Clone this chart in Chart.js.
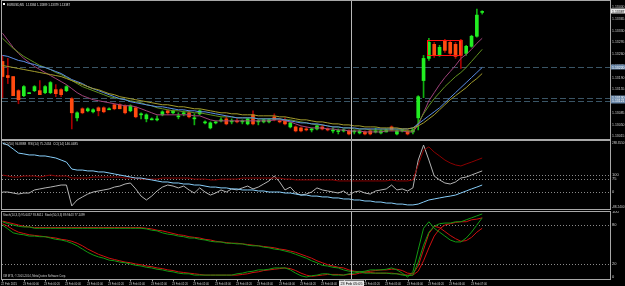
<!DOCTYPE html>
<html><head><meta charset="utf-8">
<script src="https://cdn.jsdelivr.net/npm/chart.js@4.4.1/dist/chart.umd.min.js"></script>
<style>
html,body{margin:0;padding:0;background:#000;width:625px;height:286px;overflow:hidden}
canvas{position:absolute;left:0;display:block}
</style></head><body>
<canvas id="c1" width="625" height="140" style="top:0px"></canvas>
<canvas id="c2" width="625" height="71" style="top:140px"></canvas>
<canvas id="c3" width="625" height="75" style="top:211px"></canvas>
<script>
// ---------- text ----------
const chartTitle = "EURUSD,M5";
const lastQuote = ["1.13384", "1.13389", "1.13379", "1.13387"];
const panel2Title = "CCI(50) 94.8888  RSI(14) 75.2434  CCI(14) 146.0485";
const panel3Title = "Stoch(14,3,3) 95.6457 93.8011  Stoch(50,3,3) 89.9443 77.1499";
const copyright = "XM MT4, \u00a9 2001-2014, MetaQuotes Software Corp.";

// ---------- candles (M5) ----------
const open = [1.13238,1.13196,1.13193,1.13151,1.13136,1.13142,1.13151,1.13151,1.13145,1.13145,
1.13154,1.13154,1.13151,1.13127,1.13070,1.13097,1.13091,1.13088,1.13100,1.13100,
1.13094,1.13109,1.13109,1.13106,1.13091,1.13100,1.13079,1.13067,1.13064,1.13064,
1.13079,1.13091,1.13085,1.13073,1.13082,1.13085,1.13067,1.13082,1.13055,1.13040,
1.13055,1.13061,1.13067,1.13058,1.13061,1.13058,1.13052,1.13079,1.13058,1.13058,
1.13058,1.13073,1.13061,1.13064,1.13043,1.13043,1.13040,1.13037,1.13034,1.13037,
1.13043,1.13037,1.13031,1.13029,1.13031,1.13031,1.13028,1.13025,1.13028,1.13031,
1.13028,1.13025,1.13028,1.13043,1.13022,1.13031,1.13031,1.13028,1.13070,1.13181,
1.13247,1.13289,1.13256,1.13298,1.13295,1.13289,1.13301,1.13262,1.13283,1.13313,
1.13384];
const high = [1.13256,1.13247,1.13193,1.13154,1.13166,1.13145,1.13166,1.13181,1.13166,1.13178,
1.13169,1.13157,1.13166,1.13130,1.13088,1.13100,1.13100,1.13097,1.13103,1.13103,
1.13100,1.13112,1.13112,1.13109,1.13109,1.13103,1.13085,1.13082,1.13070,1.13076,
1.13091,1.13094,1.13094,1.13085,1.13091,1.13091,1.13082,1.13094,1.13061,1.13058,
1.13061,1.13070,1.13076,1.13067,1.13067,1.13064,1.13070,1.13091,1.13064,1.13067,
1.13067,1.13082,1.13067,1.13070,1.13058,1.13046,1.13043,1.13043,1.13040,1.13049,
1.13049,1.13040,1.13040,1.13037,1.13037,1.13034,1.13034,1.13034,1.13031,1.13037,
1.13040,1.13034,1.13037,1.13046,1.13034,1.13034,1.13034,1.13037,1.13136,1.13256,
1.13307,1.13295,1.13286,1.13304,1.13301,1.13295,1.13304,1.13286,1.13316,1.13394,
1.13389];
const low = [1.13130,1.13172,1.13136,1.13112,1.13133,1.13142,1.13148,1.13139,1.13142,1.13142,
1.13133,1.13133,1.13148,1.13037,1.13061,1.13082,1.13088,1.13085,1.13076,1.13085,
1.13094,1.13094,1.13097,1.13082,1.13088,1.13070,1.13067,1.13058,1.13064,1.13061,
1.13076,1.13079,1.13082,1.13067,1.13076,1.13070,1.13049,1.13079,1.13052,1.13037,
1.13052,1.13058,1.13049,1.13052,1.13055,1.13052,1.13049,1.13049,1.13049,1.13055,
1.13055,1.13061,1.13055,1.13049,1.13040,1.13028,1.13028,1.13031,1.13028,1.13034,
1.13034,1.13031,1.13025,1.13022,1.13028,1.13019,1.13022,1.13022,1.13019,1.13019,
1.13025,1.13022,1.13028,1.13031,1.13019,1.13028,1.13019,1.13022,1.13034,1.13130,
1.13241,1.13250,1.13253,1.13265,1.13256,1.13247,1.13217,1.13256,1.13280,1.13310,
1.13379];
const close = [1.13193,1.13190,1.13136,1.13124,1.13163,1.13145,1.13163,1.13139,1.13163,1.13175,
1.13142,1.13139,1.13163,1.13085,1.13085,1.13085,1.13097,1.13094,1.13091,1.13088,
1.13097,1.13097,1.13097,1.13085,1.13106,1.13073,1.13082,1.13079,1.13067,1.13067,
1.13088,1.13085,1.13091,1.13076,1.13085,1.13073,1.13070,1.13091,1.13058,1.13055,
1.13058,1.13064,1.13052,1.13061,1.13058,1.13061,1.13067,1.13052,1.13061,1.13064,
1.13064,1.13064,1.13058,1.13052,1.13055,1.13031,1.13031,1.13034,1.13037,1.13046,
1.13037,1.13034,1.13034,1.13031,1.13031,1.13022,1.13031,1.13031,1.13022,1.13022,
1.13031,1.13031,1.13034,1.13034,1.13031,1.13031,1.13022,1.13034,1.13133,1.13247,
1.13295,1.13256,1.13280,1.13271,1.13262,1.13253,1.13256,1.13283,1.13313,1.13376,
1.13387];

// ---------- moving averages ----------
const maBlue = [1.13256,1.13253,1.13247,1.13241,1.13238,1.13232,1.13229,1.13223,1.13220,1.13214,
1.13208,1.13202,1.13193,1.13184,1.13178,1.13172,1.13163,1.13157,1.13151,1.13145,
1.13139,1.13133,1.13127,1.13124,1.13118,1.13115,1.13112,1.13109,1.13106,1.13103,
1.13103,1.13100,1.13097,1.13094,1.13094,1.13091,1.13091,1.13088,1.13088,1.13085,
1.13082,1.13079,1.13076,1.13073,1.13070,1.13070,1.13070,1.13070,1.13067,1.13067,
1.13067,1.13067,1.13067,1.13064,1.13061,1.13058,1.13055,1.13055,1.13052,1.13052,
1.13049,1.13046,1.13043,1.13043,1.13040,1.13040,1.13040,1.13037,1.13037,1.13037,
1.13037,1.13037,1.13037,1.13037,1.13037,1.13037,1.13037,1.13040,1.13052,1.13064,
1.13076,1.13088,1.13100,1.13115,1.13130,1.13145,1.13160,1.13175,1.13190,1.13205,
1.13220];
const maOlive = [1.13226,1.13223,1.13220,1.13217,1.13214,1.13211,1.13208,1.13205,1.13202,1.13199,
1.13196,1.13193,1.13187,1.13181,1.13175,1.13169,1.13163,1.13157,1.13154,1.13148,
1.13142,1.13139,1.13133,1.13130,1.13127,1.13124,1.13121,1.13118,1.13115,1.13112,
1.13109,1.13109,1.13106,1.13103,1.13103,1.13100,1.13097,1.13097,1.13094,1.13091,
1.13088,1.13085,1.13085,1.13082,1.13082,1.13079,1.13079,1.13079,1.13076,1.13076,
1.13076,1.13076,1.13073,1.13073,1.13070,1.13067,1.13064,1.13064,1.13061,1.13058,
1.13058,1.13055,1.13052,1.13052,1.13049,1.13049,1.13046,1.13046,1.13043,1.13043,
1.13043,1.13040,1.13040,1.13040,1.13040,1.13037,1.13037,1.13040,1.13046,1.13055,
1.13067,1.13079,1.13094,1.13109,1.13124,1.13136,1.13148,1.13160,1.13175,1.13187,
1.13202];
const maPurple = [1.13322,1.13301,1.13280,1.13262,1.13247,1.13235,1.13223,1.13214,1.13205,1.13196,
1.13187,1.13178,1.13169,1.13157,1.13145,1.13136,1.13130,1.13124,1.13121,1.13118,
1.13115,1.13112,1.13109,1.13106,1.13106,1.13103,1.13097,1.13091,1.13085,1.13079,
1.13079,1.13079,1.13079,1.13079,1.13079,1.13079,1.13076,1.13076,1.13070,1.13064,
1.13061,1.13061,1.13061,1.13061,1.13061,1.13061,1.13061,1.13061,1.13061,1.13061,
1.13061,1.13064,1.13064,1.13061,1.13058,1.13052,1.13046,1.13043,1.13040,1.13040,
1.13040,1.13037,1.13037,1.13034,1.13034,1.13031,1.13031,1.13031,1.13028,1.13028,
1.13028,1.13028,1.13031,1.13031,1.13031,1.13031,1.13028,1.13028,1.13049,1.13085,
1.13121,1.13145,1.13169,1.13190,1.13208,1.13226,1.13247,1.13259,1.13274,1.13292,
1.13307];
const maGreen = [1.13307,1.13292,1.13277,1.13265,1.13253,1.13244,1.13235,1.13226,1.13220,1.13214,
1.13205,1.13199,1.13190,1.13181,1.13172,1.13163,1.13157,1.13151,1.13145,1.13139,
1.13133,1.13130,1.13127,1.13124,1.13121,1.13118,1.13115,1.13109,1.13106,1.13100,
1.13097,1.13094,1.13091,1.13091,1.13088,1.13088,1.13085,1.13085,1.13082,1.13079,
1.13076,1.13073,1.13073,1.13073,1.13070,1.13070,1.13070,1.13070,1.13067,1.13067,
1.13067,1.13067,1.13067,1.13064,1.13064,1.13061,1.13058,1.13055,1.13052,1.13049,
1.13049,1.13046,1.13043,1.13043,1.13040,1.13040,1.13037,1.13037,1.13037,1.13034,
1.13034,1.13034,1.13034,1.13034,1.13034,1.13034,1.13031,1.13031,1.13055,1.13082,
1.13106,1.13127,1.13145,1.13163,1.13178,1.13193,1.13205,1.13220,1.13238,1.13256,
1.13274];

// ---------- main panel objects ----------
const priceTicks = [1.13400,1.13365,1.13330,1.13295,1.13260,1.13225,1.13190,1.13155,1.13120,1.13085,1.13050,1.13015];
const hLines = [1.13220, 1.13130, 1.13121];
const boxBars = [79.7, 86.1];
const boxPrices = [1.13301, 1.13256];
const cursorBar = 65.4;
const cursorTime = "23 Feb 05:05";

// ---------- indicator window 1 ----------
const cci50 = [288,276,253,229,224,218,218,212,212,206,
200,188,176,135,129,129,124,124,118,118,
112,106,100,94,88,82,82,76,71,65,
59,59,53,53,47,47,41,41,35,29,
29,24,24,18,18,12,12,12,6,6,
0,0,0,-6,-6,-12,-18,-18,-24,-24,
-29,-29,-35,-35,-41,-41,-47,-47,-53,-53,
-59,-59,-65,-65,-71,-71,-76,-76,-71,-59,
-47,-41,-35,-29,-24,-18,-6,6,18,29,
41];
const rsi14 = [100,94,88,88,94,94,94,88,94,100,
94,94,94,82,82,82,82,88,88,88,
88,88,88,82,82,82,76,76,76,76,
82,82,82,82,82,82,76,76,76,71,
71,76,76,76,76,82,82,82,82,82,
82,82,82,76,76,71,71,71,71,71,
71,71,71,65,65,65,65,65,65,65,
65,65,65,71,65,65,65,71,159,247,
265,235,212,188,171,159,153,165,176,188,
200];
const cci14 = [0,0,-6,-12,-6,-6,12,18,24,29,
35,41,41,-82,-47,-29,-12,0,6,12,
18,29,35,47,53,18,-24,-47,-24,6,
29,41,35,24,35,12,-6,24,0,-18,
-6,12,0,18,12,24,35,18,29,47,
65,94,59,12,29,-6,-18,-12,0,24,
12,6,0,-6,6,-18,0,6,-6,-12,
6,12,18,41,12,18,6,24,188,276,
188,94,71,53,47,59,82,88,100,112,
124];
const ind1Levels = [100, 75, 0];
const ind1Ticks = [288.355, 100, 75, 0, -88.24];

// ---------- indicator window 2 (stochastics) ----------
const stochSlowMain = [85,82,80,78,77,77,75,75,75,75,
75,75,75,75,75,75,75,75,75,75,
75,75,75,75,75,75,75,74,72,71,
68,66,65,63,62,60,60,58,57,55,
54,54,52,52,51,51,49,48,48,46,
45,43,42,40,38,35,32,29,25,22,
18,17,15,14,11,9,8,8,6,6,
6,6,6,5,5,3,2,3,23,49,
69,78,82,83,83,85,85,88,91,94,
97];
const stochSlowSignal = [86,84,82,80,78,77,76,76,76,76,
76,76,76,76,76,76,76,76,76,76,
76,76,76,76,76,76,76,75,74,72,
71,69,67,65,64,62,61,60,58,57,
55,54,53,52,52,51,50,49,48,47,
46,45,43,42,40,38,35,32,29,25,
22,19,17,15,14,11,9,8,8,7,
6,6,6,6,5,4,3,3,9,25,
45,63,74,80,82,84,85,85,88,89,
91];
const stochFastMain = [80,74,68,66,65,63,63,62,62,60,
58,57,55,52,48,43,38,34,31,29,
26,25,23,22,20,18,17,15,14,12,
11,9,8,6,5,5,3,3,3,3,
3,3,3,3,5,6,8,9,11,11,
12,14,14,14,11,6,2,0,2,3,
5,5,3,3,3,5,6,8,9,11,
11,11,12,14,11,6,0,8,42,75,
85,75,69,63,57,54,54,60,69,80,
91];
const stochFastSignal = [82,78,73,69,67,65,64,63,62,61,
60,58,57,55,52,48,43,39,35,32,
29,27,25,23,22,20,19,17,16,14,
13,11,10,8,7,6,5,4,3,3,
3,3,3,3,3,4,5,7,8,10,
11,12,13,14,13,10,6,3,1,2,
3,4,4,4,3,4,4,6,7,9,
10,11,11,12,12,10,6,5,17,42,
67,78,76,70,64,59,55,56,61,69,
75];
const stochLevels = [80, 20];
const stochTicks = [100, 80, 20, 0];

// ---------- time axis ----------
const timeLabelBars = [0,4,8,12,16,20,24,28,32,36,40,44,48,52,56,60,64,68,72,76,80,84,88];
const timeLabels = ["22 Feb 2015","23 Feb 00:00","23 Feb 00:20","23 Feb 00:40","23 Feb 01:00","23 Feb 01:20",
"23 Feb 01:40","23 Feb 02:00","23 Feb 02:20","23 Feb 02:40","23 Feb 03:00","23 Feb 03:20","23 Feb 03:40",
"23 Feb 04:00","23 Feb 04:20","23 Feb 04:40","23 Feb 05:00","23 Feb 05:20","23 Feb 05:40","23 Feb 06:00",
"23 Feb 06:20","23 Feb 06:40","23 Feb 07:00"];

// ---------- helpers ----------
const X_MIN = -0.28, X_MAX = 113.98;
const FONT = '4px "Liberation Sans", "DejaVu Sans", sans-serif';
const TXT = '#cfcfcf';
const FRAME = '#a8a8a8';
function pts(arr) { return arr.map((v, i) => ({x: i, y: v})); }
function lineDs(arr, color, order) {
  return {type: 'line', data: pts(arr), borderColor: color, borderWidth: 1, pointRadius: 0, tension: 0, order: order};
}
function baseOptions(ymin, ymax, pad) {
  return {
    responsive: false, maintainAspectRatio: false, animation: false, devicePixelRatio: 1, events: [],
    layout: {padding: pad},
    plugins: {legend: {display: false}, tooltip: {enabled: false}},
    scales: {
      x: {type: 'linear', min: X_MIN, max: X_MAX, offset: false, display: false, grid: {offset: false}},
      y: {type: 'linear', min: ymin, max: ymax, display: false}
    }
  };
}
const blackBg = {id: 'blackBg', beforeDraw(chart) {
  const c = chart.ctx; c.save(); c.fillStyle = '#000'; c.fillRect(0, 0, chart.width, chart.height); c.restore();
}};
function frame(chart) {
  const c = chart.ctx, a = chart.chartArea;
  c.save(); c.strokeStyle = FRAME; c.lineWidth = 1;
  c.strokeRect(1.5, Math.round(a.top) - 0.5, 609, Math.round(a.bottom - a.top) + 1);
  c.restore();
}
function crosshair(chart, extra) {
  const c = chart.ctx, a = chart.chartArea;
  const x = Math.round(chart.scales.x.getPixelForValue(cursorBar)) + 0.5;
  c.save(); c.strokeStyle = '#b8b8b8'; c.lineWidth = 1;
  c.beginPath(); c.moveTo(x, a.top); c.lineTo(x, a.bottom + (extra || 0)); c.stroke(); c.restore();
  return x;
}
function hLevel(chart, v, color, dash) {
  const c = chart.ctx, a = chart.chartArea;
  const y = Math.round(chart.scales.y.getPixelForValue(v)) + 0.5;
  c.save(); c.strokeStyle = color; c.lineWidth = 1; c.setLineDash(dash);
  c.beginPath(); c.moveTo(a.left + 1, y); c.lineTo(a.right, y); c.stroke(); c.restore();
}
function text(c, s, x, y, maxW, color, align) {
  c.save(); c.font = FONT; c.fillStyle = color || TXT; c.textBaseline = 'middle'; c.textAlign = align || 'left';
  c.fillText(s, x, y, maxW); c.restore();
}
function axisLabel(chart, v, s, bg, fg) {
  const c = chart.ctx;
  const y = chart.scales.y.getPixelForValue(v);
  if (bg) { c.save(); c.fillStyle = bg; c.fillRect(611, Math.round(y) - 2.5, 14, 5); c.restore(); }
  text(c, s, 612, y, 12.5, fg || TXT);
}

// ---------- main chart ----------
const bull = close.map((c, i) => c >= open[i]);
const mainDeco = {
  id: 'mainDeco',
  beforeDatasetsDraw(chart) {
    hLevel(chart, hLines[0], '#3a5566', [6, 3]);
    hLevel(chart, hLines[1], '#3a5566', [6, 3]);
    hLevel(chart, hLines[2], '#3a5566', [6, 3]);
  },
  afterDatasetsDraw(chart) {
    const c = chart.ctx, xs = chart.scales.x, ys = chart.scales.y;
    const x0 = xs.getPixelForValue(boxBars[0]), x1 = xs.getPixelForValue(boxBars[1]);
    const y0 = ys.getPixelForValue(boxPrices[0]), y1 = ys.getPixelForValue(boxPrices[1]);
    c.save(); c.strokeStyle = '#ff1010'; c.lineWidth = 1;
    c.strokeRect(Math.round(x0) + 0.5, Math.round(y0) + 0.5, Math.round(x1 - x0), Math.round(y1 - y0)); c.restore();
    crosshair(chart, 1);
    frame(chart);
    c.save(); c.fillStyle = '#ffffff'; c.fillRect(3, 3, 2, 2); c.restore();
    text(c, chartTitle + "  " + lastQuote.join(" "), 7, 4.5, 63, '#e0e0e0');
    priceTicks.forEach(v => axisLabel(chart, v, v.toFixed(5)));
    hLines.forEach(v => axisLabel(chart, v, v.toFixed(5), '#6a88aa', '#ffffff'));
    axisLabel(chart, close[close.length - 1], close[close.length - 1].toFixed(5), '#e8e8e8', '#000000');
  }
};
new Chart(document.getElementById('c1'), {
  type: 'bar',
  data: {datasets: [
    lineDs(maOlive, '#a39c2c', 0),
    lineDs(maBlue, '#5b8fe8', 0),
    lineDs(maGreen, '#62921f', 0),
    lineDs(maPurple, '#a0427a', 0),
    {type: 'bar', data: open.map((o, i) => ({x: i, y: [o, close[i]]})),
     backgroundColor: bull.map(b => b ? '#22ee22' : '#ff4a10'), barThickness: 3, minBarLength: 1, grouped: false, order: 2},
    {type: 'bar', data: low.map((l, i) => ({x: i, y: [l, high[i]]})),
     backgroundColor: bull.map(b => b ? '#10b010' : '#a80000'), barThickness: 1, minBarLength: 1, grouped: false, order: 3}
  ]},
  options: baseOptions(1.13007, 1.13418, {left: 1, right: 15, top: 1, bottom: 1}),
  plugins: [blackBg, mainDeco]
});

// ---------- indicator window 1 ----------
const deco2 = {
  id: 'deco2',
  beforeDatasetsDraw(chart) { ind1Levels.forEach(v => hLevel(chart, v, '#8a8a8a', [1, 2])); },
  afterDatasetsDraw(chart) {
    const c = chart.ctx;
    crosshair(chart, 1);
    frame(chart);
    text(c, panel2Title, 3, 3.5, 75, '#d8d8d8');
    ind1Ticks.forEach(v => axisLabel(chart, v, Number.isInteger(v) ? String(v) : v.toFixed(4)));
  }
};
new Chart(document.getElementById('c2'), {
  type: 'line',
  data: {datasets: [
    lineDs(cci50, '#87cefa', 0),
    lineDs(rsi14, '#8c0000', 0),
    lineDs(cci14, '#b4b4b4', 0)
  ]},
  options: baseOptions(-100, 300, {left: 1, right: 15, top: 1, bottom: 2}),
  plugins: [blackBg, deco2]
});

// ---------- indicator window 2 ----------
const deco3 = {
  id: 'deco3',
  beforeDatasetsDraw(chart) { stochLevels.forEach(v => hLevel(chart, v, '#8a8a8a', [1, 2])); },
  afterDatasetsDraw(chart) {
    const c = chart.ctx, xs = chart.scales.x, a = chart.chartArea;
    const cx = crosshair(chart, 1);
    frame(chart);
    text(c, panel3Title, 3, 3.5, 82, '#d8d8d8');
    text(c, copyright, 3, a.bottom - 3, 63, '#d0d0d0');
    stochTicks.forEach(v => axisLabel(chart, v, String(v)));
    timeLabelBars.forEach((b, k) => {
      const x = Math.round(xs.getPixelForValue(b));
      c.save(); c.strokeStyle = FRAME; c.beginPath(); c.moveTo(x + 0.5, a.bottom + 1); c.lineTo(x + 0.5, a.bottom + 2.5); c.stroke(); c.restore();
      text(c, timeLabels[k], x - 1, a.bottom + 4.5, 16, '#d0d0d0');
    });
    c.save(); c.fillStyle = '#e6e6e6'; c.fillRect(cx - 12.5, a.bottom + 1.5, 25, 6); c.restore();
    text(c, cursorTime, cx, a.bottom + 4.5, 22, '#000000', 'center');
  }
};
new Chart(document.getElementById('c3'), {
  type: 'line',
  data: {datasets: [
    lineDs(stochSlowSignal, '#d01010', 1),
    lineDs(stochSlowMain, '#129a12', 0),
    lineDs(stochFastSignal, '#d01010', 1),
    lineDs(stochFastMain, '#129a12', 0)
  ]},
  options: baseOptions(-3, 100, {left: 1, right: 15, top: 1, bottom: 7}),
  plugins: [blackBg, deco3]
});
</script>
</body></html>
